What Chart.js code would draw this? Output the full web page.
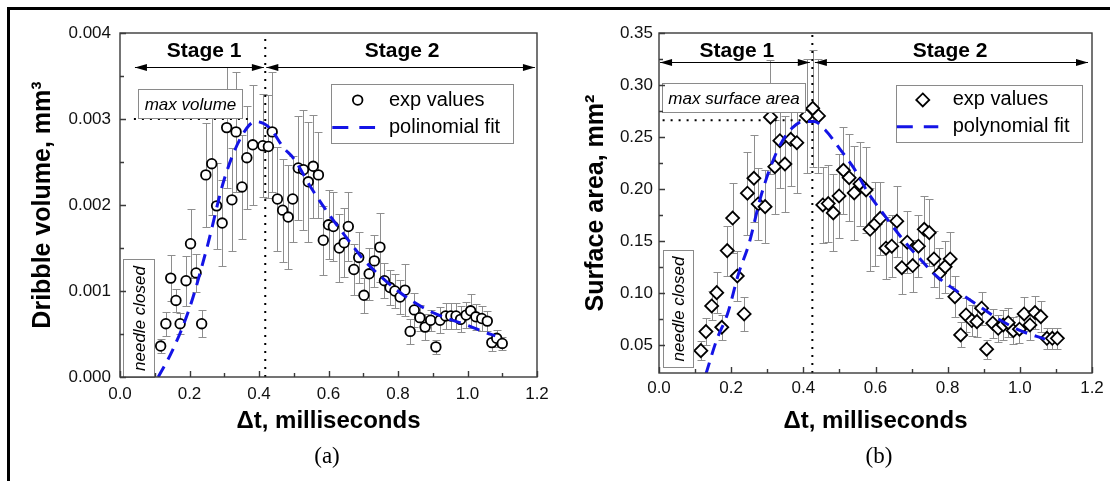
<!DOCTYPE html>
<html>
<head>
<meta charset="utf-8">
<script src="https://cdn.jsdelivr.net/npm/chart.js@4.4.1/dist/chart.umd.min.js"></script>
<style>
  body { margin: 0; background: #fff; }
  #wrap { position: relative; width: 1110px; height: 481px; overflow: hidden; background: #fff; }
  #frame { position: absolute; left: 7px; top: 7px; width: 1120px; height: 490px;
           border-left: 3px solid #000; border-top: 3px solid #000; pointer-events: none; }
  canvas { position: absolute; top: 0; }
  #ca { left: 0; }
  #cb { left: 560px; }
  .cap { position: absolute; top: 443px; width: 100px; text-align: center;
         font: 23px "Liberation Serif", "Times New Roman", serif; color: #000; }
</style>
</head>
<body>
<div id="wrap">
  <canvas id="ca" width="560" height="481"></canvas>
  <canvas id="cb" width="550" height="481"></canvas>
  <div class="cap" style="left:277px">(a)</div>
  <div class="cap" style="left:829px">(b)</div>
  <div id="frame"></div>
</div>
<script>
// ticks
const xTicks = [0, 0.2, 0.4, 0.6, 0.8, 1.0, 1.2];
const xMinor = [0.1, 0.3, 0.5, 0.7, 0.9, 1.1];
const volTicks = [0, 0.001, 0.002, 0.003, 0.004];
const volMinor = [0.0005, 0.0015, 0.0025, 0.0035];
const areaTicks = [0.05, 0.10, 0.15, 0.20, 0.25, 0.30, 0.35];
const areaMinor = [0.075, 0.125, 0.175, 0.225, 0.275, 0.325];

// (a) dribble volume, mm^3
const volT = [0.117,0.132,0.146,0.161,0.173,0.190,0.203,0.219,0.235,0.247,0.264,0.278,0.294,0.307,0.322,0.334,0.351,0.365,0.382,0.411,0.427,0.438,0.453,0.468,0.484,0.497,0.513,0.528,0.542,0.556,0.571,0.585,0.600,0.614,0.631,0.645,0.657,0.673,0.687,0.702,0.717,0.732,0.748,0.761,0.777,0.791,0.806,0.820,0.835,0.847,0.863,0.878,0.894,0.909,0.921,0.937,0.952,0.967,0.980,0.996,1.009,1.024,1.041,1.057,1.070,1.084,1.100];
const volV = [0.00036,0.00062,0.00115,0.00089,0.00062,0.00112,0.00155,0.00121,0.00062,0.00235,0.00248,0.00199,0.00179,0.00290,0.00206,0.00285,0.00221,0.00255,0.00270,0.00269,0.00268,0.00285,0.00207,0.00194,0.00186,0.00207,0.00243,0.00241,0.00227,0.00245,0.00235,0.00159,0.00177,0.00175,0.00150,0.00156,0.00175,0.00125,0.00139,0.00095,0.00120,0.00135,0.00151,0.00112,0.00104,0.00100,0.00093,0.00101,0.00053,0.00078,0.00069,0.00058,0.00066,0.00035,0.00066,0.00071,0.00071,0.00071,0.00067,0.00072,0.00077,0.00070,0.00068,0.00065,0.00040,0.00045,0.00039];
const volE = [0.00008,0.00014,0.00027,0.00013,0.00012,0.00029,0.0004,0.00022,0.00016,0.0006,0.0006,0.0005,0.0005,0.0007,0.0006,0.0007,0.0006,0.0006,0.0007,0.0006,0.0006,0.0007,0.0006,0.0006,0.0006,0.0005,0.0006,0.0007,0.0007,0.0006,0.0005,0.0004,0.0004,0.0004,0.0004,0.0004,0.0004,0.0003,0.0003,0.0002,0.0003,0.0003,0.0004,0.0002,0.0002,0.0002,0.0002,0.0003,0.00015,0.0002,0.00015,0.00015,0.00012,0.00008,0.00015,0.00015,0.00015,0.00015,0.00015,0.00015,0.0002,0.00015,0.00015,0.00012,0.0001,0.0001,0.00008];
const volFitT = [0.11,0.15,0.20,0.25,0.30,0.35,0.39,0.43,0.47,0.50,0.55,0.60,0.65,0.70,0.75,0.80,0.85,0.90,0.95,1.00,1.05,1.08];
const volFitV = [0.0000,0.0003,0.0008,0.0015,0.0023,0.0028,0.00297,0.0029,0.00267,0.00254,0.0022,0.0019,0.00163,0.00137,0.00117,0.0010,0.00086,0.00075,0.00067,0.0006,0.00052,0.00048];

// (b) surface area, mm^2
const areaT = [0.116,0.130,0.146,0.160,0.174,0.189,0.204,0.217,0.236,0.245,0.263,0.275,0.294,0.309,0.321,0.335,0.349,0.365,0.382,0.409,0.426,0.442,0.454,0.469,0.483,0.499,0.511,0.527,0.541,0.557,0.574,0.585,0.599,0.613,0.629,0.645,0.659,0.673,0.688,0.703,0.719,0.735,0.749,0.762,0.777,0.793,0.807,0.820,0.836,0.851,0.867,0.881,0.894,0.908,0.925,0.940,0.954,0.968,0.982,0.999,1.012,1.028,1.042,1.058,1.075,1.090,1.104];
const areaV = [0.0445,0.0628,0.0875,0.1003,0.0670,0.1407,0.1720,0.1163,0.0798,0.1959,0.2103,0.1856,0.1830,0.2690,0.2214,0.2464,0.2240,0.2478,0.2445,0.2702,0.2776,0.2702,0.1846,0.1860,0.1770,0.1933,0.2180,0.2108,0.1962,0.2048,0.1990,0.1612,0.1663,0.1718,0.1430,0.1450,0.1690,0.1243,0.1488,0.1263,0.1450,0.1612,0.1580,0.1327,0.1189,0.1253,0.1327,0.0964,0.0596,0.0788,0.0734,0.0724,0.0853,0.0459,0.0709,0.0660,0.0692,0.0714,0.0637,0.0651,0.0798,0.0692,0.0811,0.0772,0.0564,0.0564,0.0564];
const areaE = [0.009,0.013,0.014,0.02,0.012,0.024,0.034,0.024,0.016,0.04,0.042,0.035,0.035,0.055,0.045,0.045,0.046,0.045,0.048,0.055,0.056,0.055,0.037,0.037,0.037,0.04,0.042,0.042,0.045,0.04,0.041,0.04,0.04,0.035,0.03,0.03,0.034,0.025,0.03,0.025,0.03,0.032,0.032,0.027,0.024,0.025,0.026,0.02,0.012,0.016,0.015,0.015,0.016,0.009,0.014,0.013,0.014,0.014,0.013,0.013,0.016,0.014,0.016,0.015,0.01,0.01,0.01];
const areaFitT = [0.13,0.16,0.19,0.22,0.25,0.28,0.31,0.34,0.37,0.40,0.43,0.46,0.50,0.54,0.58,0.62,0.67,0.72,0.77,0.82,0.88,0.94,1.00,1.07];
const areaFitV = [0.022,0.055,0.080,0.118,0.148,0.190,0.222,0.245,0.259,0.265,0.265,0.257,0.239,0.220,0.196,0.177,0.154,0.134,0.116,0.103,0.089,0.075,0.064,0.0555];

const FONT = '"Liberation Sans", Arial, sans-serif';
Chart.defaults.font.family = FONT;
Chart.defaults.color = '#111';

const pts = (xs, ys) => xs.map((x, i) => ({ x: x, y: ys[i] }));

// vertical error bars, drawn under the markers
const errorBars = {
  id: 'errorBars',
  beforeDatasetsDraw(chart) {
    const ctx = chart.ctx, xs = chart.scales.x, ys = chart.scales.y;
    chart.data.datasets.forEach(ds => {
      if (!ds.errors) return;
      ctx.save();
      ctx.strokeStyle = '#8e8e8e';
      ctx.lineWidth = 1;
      ctx.beginPath();
      ds.data.forEach((p, i) => {
        const e = ds.errors[i];
        const px = Math.round(xs.getPixelForValue(p.x)) + 0.5;
        const y1 = Math.round(ys.getPixelForValue(p.y + e)) + 0.5;
        const y2 = Math.round(ys.getPixelForValue(p.y - e)) + 0.5;
        ctx.moveTo(px, y1); ctx.lineTo(px, y2);
        ctx.moveTo(px - 4, y1); ctx.lineTo(px + 4, y1);
        ctx.moveTo(px - 4, y2); ctx.lineTo(px + 4, y2);
      });
      ctx.stroke();
      ctx.restore();
    });
  }
};

// Origin-style box with inward ticks
function makeFrame(yMajor, yMinor) {
  return {
    id: 'frame',
    afterDraw(chart) {
      const ctx = chart.ctx, a = chart.chartArea, xs = chart.scales.x, ys = chart.scales.y;
      ctx.save();
      ctx.strokeStyle = '#3a3a3a';
      ctx.lineWidth = 1.4;
      ctx.strokeRect(a.left, a.top, a.right - a.left, a.bottom - a.top);
      ctx.beginPath();
      const tx = (v, len) => { const p = Math.round(xs.getPixelForValue(v)) + 0.5; ctx.moveTo(p, a.bottom); ctx.lineTo(p, a.bottom - len); };
      const ty = (v, len) => { const p = Math.round(ys.getPixelForValue(v)) + 0.5; ctx.moveTo(a.left, p); ctx.lineTo(a.left + len, p); };
      xTicks.forEach(v => tx(v, 6));
      xMinor.forEach(v => tx(v, 4));
      yMajor.forEach(v => ty(v, 6));
      yMinor.forEach(v => ty(v, 4));
      ctx.stroke();
      ctx.restore();
    }
  };
}

function arrowHead(ctx, x, y, dir) {
  ctx.beginPath();
  ctx.moveTo(x, y);
  ctx.lineTo(x - dir * 12, y - 3.5);
  ctx.lineTo(x - dir * 12, y + 3.5);
  ctx.closePath();
  ctx.fill();
}

// stage arrows, note boxes and legend
function makeDeco(cfg) {
  return {
    id: 'deco',
    afterDatasetsDraw(chart) {
      const ctx = chart.ctx, xs = chart.scales.x, ys = chart.scales.y;
      const X = v => xs.getPixelForValue(v), Y = v => ys.getPixelForValue(v);
      ctx.save();
      // stages
      const ay = Math.round(Y(cfg.stageY)) + 0.5;
      cfg.stages.forEach(s => {
        const l = X(s.x0), r = X(s.x1);
        ctx.strokeStyle = '#000'; ctx.fillStyle = '#000'; ctx.lineWidth = 1;
        ctx.beginPath(); ctx.moveTo(l, ay); ctx.lineTo(r, ay); ctx.stroke();
        arrowHead(ctx, l, ay, -1);
        arrowHead(ctx, r, ay, 1);
        ctx.font = 'bold 21px ' + FONT;
        ctx.textAlign = 'center'; ctx.textBaseline = 'middle';
        ctx.fillText(s.text, X(s.lx), Y(cfg.stageLabelY));
      });
      // note boxes
      cfg.boxes.forEach(b => {
        const l = Math.round(X(b.x0)) + 0.5, r = Math.round(X(b.x1)) + 0.5;
        const t = Math.round(Y(b.y1)) + 0.5, bt = Math.round(Y(b.y0)) + 0.5;
        ctx.fillStyle = '#fff'; ctx.fillRect(l, t, r - l, bt - t);
        ctx.strokeStyle = '#8a8a8a'; ctx.lineWidth = 1; ctx.strokeRect(l, t, r - l, bt - t);
        ctx.fillStyle = '#000';
        ctx.font = 'italic 17px ' + FONT;
        ctx.textAlign = 'center'; ctx.textBaseline = 'middle';
        ctx.save();
        ctx.translate((l + r) / 2, (t + bt) / 2);
        if (b.rot) ctx.rotate(-Math.PI / 2);
        ctx.fillText(b.text, 0, 1);
        ctx.restore();
      });
      // legend
      const g = cfg.legend;
      const l = Math.round(X(g.x0)) + 0.5, r = Math.round(X(g.x1)) + 0.5;
      const t = Math.round(Y(g.y1)) + 0.5, bt = Math.round(Y(g.y0)) + 0.5;
      ctx.fillStyle = '#fff'; ctx.fillRect(l, t, r - l, bt - t);
      ctx.strokeStyle = '#8a8a8a'; ctx.lineWidth = 1; ctx.strokeRect(l, t, r - l, bt - t);
      const sx = X(g.symX), sy = Y(g.rows[0]);
      ctx.strokeStyle = '#000'; ctx.lineWidth = 1.8; ctx.fillStyle = '#fff';
      ctx.beginPath();
      if (g.symbol === 'circle') {
        ctx.arc(sx, sy, 4.8, 0, Math.PI * 2);
      } else {
        ctx.moveTo(sx, sy - 6.5); ctx.lineTo(sx + 6.5, sy); ctx.lineTo(sx, sy + 6.5); ctx.lineTo(sx - 6.5, sy); ctx.closePath();
      }
      ctx.fill(); ctx.stroke();
      const dy = Y(g.rows[1]);
      ctx.strokeStyle = '#1414e6'; ctx.lineWidth = 3; ctx.setLineDash([16, 11]);
      ctx.beginPath(); ctx.moveTo(X(g.dashX[0]), dy); ctx.lineTo(X(g.dashX[1]), dy); ctx.stroke();
      ctx.setLineDash([]);
      ctx.fillStyle = '#000'; ctx.font = '20px ' + FONT;
      ctx.textAlign = 'left'; ctx.textBaseline = 'middle';
      ctx.fillText(g.labels[0], X(g.textX), sy);
      ctx.fillText(g.labels[1], X(g.textX), dy);
      ctx.restore();
    }
  };
}

const decoA = {
  stageY: 0.00361, stageLabelY: 0.00379,
  stages: [
    { x0: 0.043, x1: 0.414, lx: 0.242, text: 'Stage 1' },
    { x0: 0.421, x1: 1.194, lx: 0.812, text: 'Stage 2' }
  ],
  boxes: [
    { x0: 0.053, x1: 0.350, y0: 0.00301, y1: 0.00335, text: 'max volume' },
    { x0: 0.0095, x1: 0.098, y0: 0, y1: 0.00137, text: 'needle closed', rot: true }
  ],
  legend: { x0: 0.606, x1: 1.132, y0: 0.00272, y1: 0.00341, rows: [0.00322, 0.0029],
            symX: 0.684, dashX: [0.611, 0.734], textX: 0.774, symbol: 'circle',
            labels: ['exp values', 'polinomial fit'] }
};
const decoB = {
  stageY: 0.3224, stageLabelY: 0.3327,
  stages: [
    { x0: 0.003, x1: 0.418, lx: 0.216, text: 'Stage 1' },
    { x0: 0.432, x1: 1.189, lx: 0.807, text: 'Stage 2' }
  ],
  boxes: [
    { x0: 0.0075, x1: 0.405, y0: 0.2738, y1: 0.3022, text: 'max surface area' },
    { x0: 0.010, x1: 0.095, y0: 0.029, y1: 0.1413, text: 'needle closed', rot: true }
  ],
  legend: { x0: 0.657, x1: 1.1715, y0: 0.2455, y1: 0.300, rows: [0.2856, 0.2599],
            symX: 0.731, dashX: [0.659, 0.774], textX: 0.814, symbol: 'diamond',
            labels: ['exp values', 'polynomial fit'] }
};

function guide(data) {
  return { type: 'line', data: data, borderColor: '#000', borderWidth: 2, borderDash: [2, 6],
           pointRadius: 0, tension: 0, fill: false, order: 2 };
}

function makeChart(id, o) {
  return new Chart(document.getElementById(id), {
    type: 'scatter',
    data: {
      datasets: [
        { type: 'line', label: 'fit', data: o.fit, borderColor: '#1414e6', borderWidth: 3,
          borderDash: [12, 8], pointRadius: 0, cubicInterpolationMode: 'monotone',
          fill: false, order: 0 },
        { label: 'exp values', data: o.exp, errors: o.err, pointStyle: o.style,
          pointRadius: o.radius, borderWidth: 1.8, borderColor: '#000',
          backgroundColor: '#fff', order: 1 },
        guide(o.vline),
        guide(o.hline)
      ]
    },
    options: {
      responsive: false,
      animation: false,
      events: [],
      layout: { padding: { left: 0, top: 33, right: o.padRight, bottom: 0 } },
      plugins: { legend: { display: false }, tooltip: { enabled: false } },
      scales: {
        x: {
          type: 'linear', min: 0, max: 1.2,
          afterBuildTicks: s => { s.ticks = xTicks.map(v => ({ value: v })); },
          afterFit: s => { s.height = o.xHeight; },
          grid: { display: false, drawTicks: false },
          border: { display: false },
          ticks: { padding: o.xPad, font: { size: 17 }, color: '#111', maxRotation: 0,
                   callback: v => v.toFixed(1) },
          title: { display: true, text: 'Δt, milliseconds', color: '#000',
                   font: { size: 24, weight: 'bold' }, padding: { top: 0, bottom: 45 } }
        },
        y: {
          type: 'linear', min: o.yMin, max: o.yMax,
          afterBuildTicks: s => { s.ticks = o.yTicks.map(v => ({ value: v })); },
          afterFit: s => { s.width = o.yWidth; },
          grid: { display: false, drawTicks: false },
          border: { display: false },
          ticks: { padding: o.yPad, font: { size: 17 }, color: '#111',
                   callback: v => v.toFixed(o.dec) },
          title: { display: true, text: o.yTitle, color: '#000',
                   font: { size: 25, weight: 'bold' }, padding: { top: o.yTitlePad, bottom: 0 } }
        }
      }
    },
    plugins: [errorBars, makeFrame(o.yTicks, o.yMinor), makeDeco(o.deco)]
  });
}

makeChart('ca', {
  fit: pts(volFitT, volFitV), exp: pts(volT, volV), err: volE,
  style: 'circle', radius: 4.8,
  vline: [{ x: 0.418, y: 0 }, { x: 0.418, y: 0.004 }],
  hline: [{ x: 0.04, y: 0.003 }, { x: 0.38, y: 0.003 }],
  padRight: 23, xHeight: 104, xPad: 7, yWidth: 120, yPad: 9,
  yMin: 0, yMax: 0.004, yTicks: volTicks, yMinor: volMinor, dec: 3,
  yTitle: 'Dribble volume, mm³', yTitlePad: 28, deco: decoA
});

makeChart('cb', {
  fit: pts(areaFitT, areaFitV), exp: pts(areaT, areaV), err: areaE,
  style: 'rectRot', radius: 6.5,
  vline: [{ x: 0.425, y: 0.023 }, { x: 0.425, y: 0.35 }],
  hline: [{ x: 0.01, y: 0.266 }, { x: 0.40, y: 0.266 }],
  padRight: 18, xHeight: 108, xPad: 5, yWidth: 99, yPad: 6,
  yMin: 0.023, yMax: 0.35, yTicks: areaTicks, yMinor: areaMinor, dec: 2,
  yTitle: 'Surface area, mm²', yTitlePad: 21, deco: decoB
});
</script>
</body>
</html>
